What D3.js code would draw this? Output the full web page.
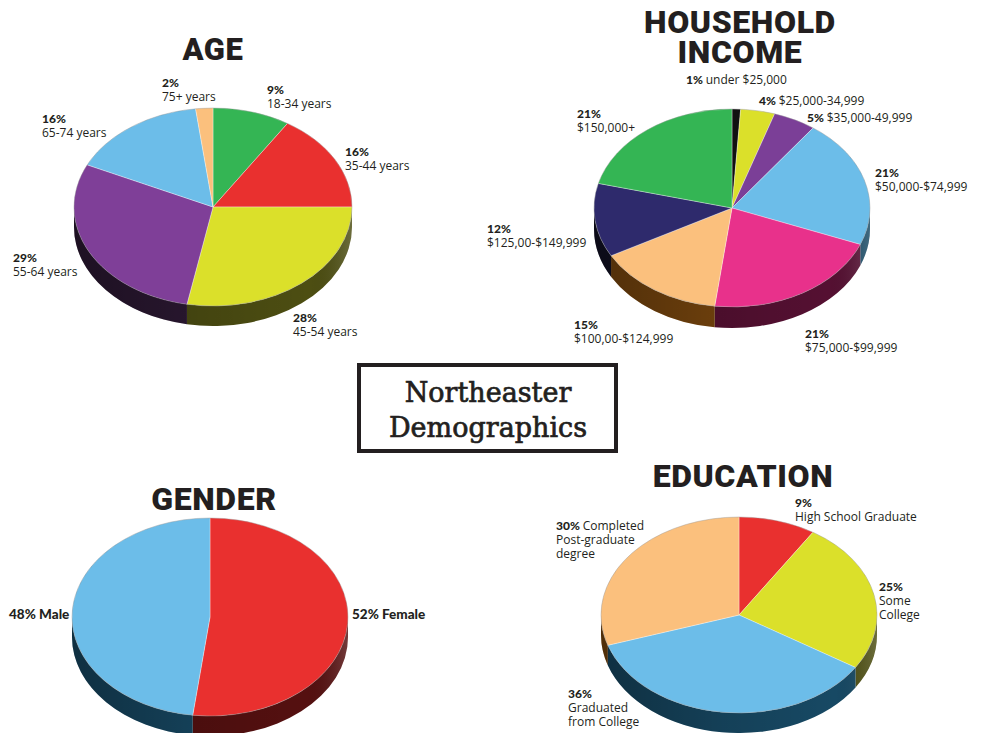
<!DOCTYPE html>
<html>
<head>
<meta charset="utf-8">
<script src="https://cdn.jsdelivr.net/npm/d3@7"></script>
<style>
    body { margin: 0; background: #fff; }
    svg { display: block; }
    .title { font-family: Roboto, "DejaVu Sans", sans-serif; font-weight: 900; fill: #231f20; text-anchor: middle; letter-spacing: 0.6px; }
    .lbl { font-family: "Open Sans", sans-serif; font-size: 12px; fill: #231f20; }
    .lbl .pct { font-family: Lato, "Open Sans", sans-serif; font-weight: 900; }
    .lbl.big { font-size: 13.5px; }
</style>
</head>
<body>
<svg id="chart" width="984" height="733"></svg>
<script>
// ---- data ----
const ageLabels = ["18-34 years", "35-44 years", "45-54 years", "55-64 years", "65-74 years", "75+ years"];
const ageValues = [9, 16, 28, 29, 16, 2];
const ageColors = ["#34b554", "#e9302f", "#dbe02a", "#7f3f98", "#6cbde9", "#fbc07d"];

const incomeLabels = ["under $25,000", "$25,000-34,999", "$35,000-49,999", "$50,000-$74,999",
    "$75,000-$99,999", "$100,00-$124,999", "$125,00-$149,999", "$150,000+"];
const incomeValues = [1, 4, 5, 21, 21, 15, 12, 21];
const incomeColors = ["#111111", "#dbe02a", "#7b3f97", "#6cbde9", "#e8318b", "#fbc07d", "#2e2a6c", "#34b554"];

const genderLabels = ["Female", "Male"];
const genderValues = [52, 48];
const genderColors = ["#e9302f", "#6cbde9"];

const educationLabels = ["High School Graduate", "Some\nCollege", "Graduated\nfrom College", "Completed\nPost-graduate\ndegree"];
const educationValues = [9, 25, 36, 30];
const educationColors = ["#e9302f", "#dbe02a", "#6cbde9", "#fbc07d"];

// ---- layout (label anchors, hand placed like the print version) ----
const ageLayout = [
    { x: 267, y: 94 }, { x: 345, y: 156 }, { x: 293, y: 322 },
    { x: 13, y: 262 }, { x: 42, y: 123 }, { x: 162, y: 87 }
];
const incomeLayout = [
    { x: 686, y: 84, inline: true }, { x: 759, y: 105, inline: true }, { x: 807, y: 122, inline: true },
    { x: 875, y: 177 }, { x: 805, y: 338 }, { x: 574, y: 329 }, { x: 487, y: 233 }, { x: 577, y: 118 }
];
const genderLayout = [{ x: 352, y: 619, inline: true }, { x: 9, y: 619, inline: true }];
const educationLayout = [
    { x: 795, y: 507 }, { x: 879, y: 591 }, { x: 568, y: 698 }, { x: 556, y: 530, inline: true }
];

const svg = d3.select("#chart");
const defs = svg.append("defs");

// shading that runs across the rim of every pie
const grad = defs.append("linearGradient").attr("id", "rimShade");
[[0, "#000", 0.35], [0.45, "#000", 0.12], [0.85, "#000", 0], [1, "#fff", 0.18]].forEach(s => {
    grad.append("stop").attr("offset", s[0]).attr("stop-color", s[1]).attr("stop-opacity", s[2]);
});

const rimColor = c => {
    const h = d3.hsl(c);
    h.l = h.l * 0.36;
    h.s = h.s * 0.85;
    return h.formatHex();
};

function drawPie3D(cfg) {
    const { cx, cy, rx, ry, depth, values, colors } = cfg;
    const k = ry / rx;
    const dz = depth / k;
    const arcs = d3.pie().sort(null).value(d => d)(values);
    const arc = d3.arc().innerRadius(0).outerRadius(rx);

    const g = svg.append("g").attr("transform", `translate(${cx},${cy}) scale(1,${k})`);

    // rim (only the front half of the ellipse shows)
    const rimPath = (s, e) => {
        const p = d3.path();
        p.moveTo(rx * Math.sin(s), -rx * Math.cos(s));
        p.arc(0, 0, rx, s - Math.PI / 2, e - Math.PI / 2, false);
        p.lineTo(rx * Math.sin(e), -rx * Math.cos(e) + dz);
        p.arc(0, dz, rx, e - Math.PI / 2, s - Math.PI / 2, true);
        p.closePath();
        return p.toString();
    };

    arcs.forEach((a, i) => {
        const s = Math.max(a.startAngle, Math.PI / 2);
        const e = Math.min(a.endAngle, Math.PI * 1.5);
        if (s < e) {
            g.append("path").attr("d", rimPath(s, e)).attr("fill", rimColor(colors[i]));
        }
    });
    g.append("path").attr("d", rimPath(Math.PI / 2, Math.PI * 1.5)).attr("fill", "url(#rimShade)");

    g.selectAll("path.top")
        .data(arcs)
        .enter().append("path")
        .attr("class", "top")
        .attr("d", arc)
        .attr("fill", (d, i) => colors[i])
        .attr("stroke", "rgba(255,255,255,0.55)")
        .attr("stroke-width", 0.6)
        .attr("vector-effect", "non-scaling-stroke");

    // faint outline round the top face
    g.append("ellipse")
        .attr("rx", rx).attr("ry", rx)
        .attr("fill", "none")
        .attr("stroke", "rgba(0,0,0,0.25)")
        .attr("stroke-width", 0.7)
        .attr("vector-effect", "non-scaling-stroke");
}

function drawLabels(values, labels, layout, allBold) {
    values.forEach((v, i) => {
        const pos = layout[i];
        const lines = labels[i].split("\n");
        const t = svg.append("text").attr("class", allBold ? "lbl big" : "lbl").attr("x", pos.x).attr("y", pos.y);
        if (pos.inline) {
            const first = t.append("tspan").attr("x", pos.x).attr("dy", 0);
            first.append("tspan").attr("class", "pct").text(v + "% ");
            first.append("tspan").attr("class", allBold ? "pct" : null).text(lines.shift());
        } else {
            t.append("tspan").attr("class", "pct").attr("x", pos.x).attr("dy", 0).text(v + "%");
        }
        lines.forEach(l => {
            t.append("tspan").attr("x", pos.x).attr("dy", 14).text(l);
        });
    });
}

function title(lines, x, y, size, lh) {
    const t = svg.append("text").attr("class", "title").attr("font-size", size);
    lines.forEach((l, i) => t.append("tspan").attr("x", x).attr("y", y + i * lh).text(l));
}

// ---- pies ----
drawPie3D({ cx: 213, cy: 207, rx: 139, ry: 99, depth: 20, values: ageValues, colors: ageColors });
drawPie3D({ cx: 732, cy: 208, rx: 138, ry: 99, depth: 21, values: incomeValues, colors: incomeColors });
drawPie3D({ cx: 210, cy: 617, rx: 138, ry: 99, depth: 20, values: genderValues, colors: genderColors });
drawPie3D({ cx: 739, cy: 615, rx: 138, ry: 98, depth: 20, values: educationValues, colors: educationColors });

drawLabels(ageValues, ageLabels, ageLayout, false);
drawLabels(incomeValues, incomeLabels, incomeLayout, false);
drawLabels(genderValues, genderLabels, genderLayout, true);
drawLabels(educationValues, educationLabels, educationLayout, false);

title(["AGE"], 213, 60, 31, 0);
title(["HOUSEHOLD", "INCOME"], 740, 33, 32, 30);
title(["GENDER"], 214, 510, 32, 0);
title(["EDUCATION"], 743, 487, 32, 0);

// centre box
svg.append("rect")
    .attr("x", 359).attr("y", 365).attr("width", 257).attr("height", 86)
    .attr("fill", "none").attr("stroke", "#231f20").attr("stroke-width", 4);
const head = svg.append("text")
    .attr("font-family", "'DejaVu Serif', serif")
    .attr("font-size", 27)
    .attr("fill", "#231f20")
    .attr("stroke", "#231f20")
    .attr("stroke-width", 0.7)
    .attr("text-anchor", "middle");
head.append("tspan").attr("x", 488).attr("y", 402).text("Northeaster");
head.append("tspan").attr("x", 488).attr("y", 437).text("Demographics");
</script>
</body>
</html>
